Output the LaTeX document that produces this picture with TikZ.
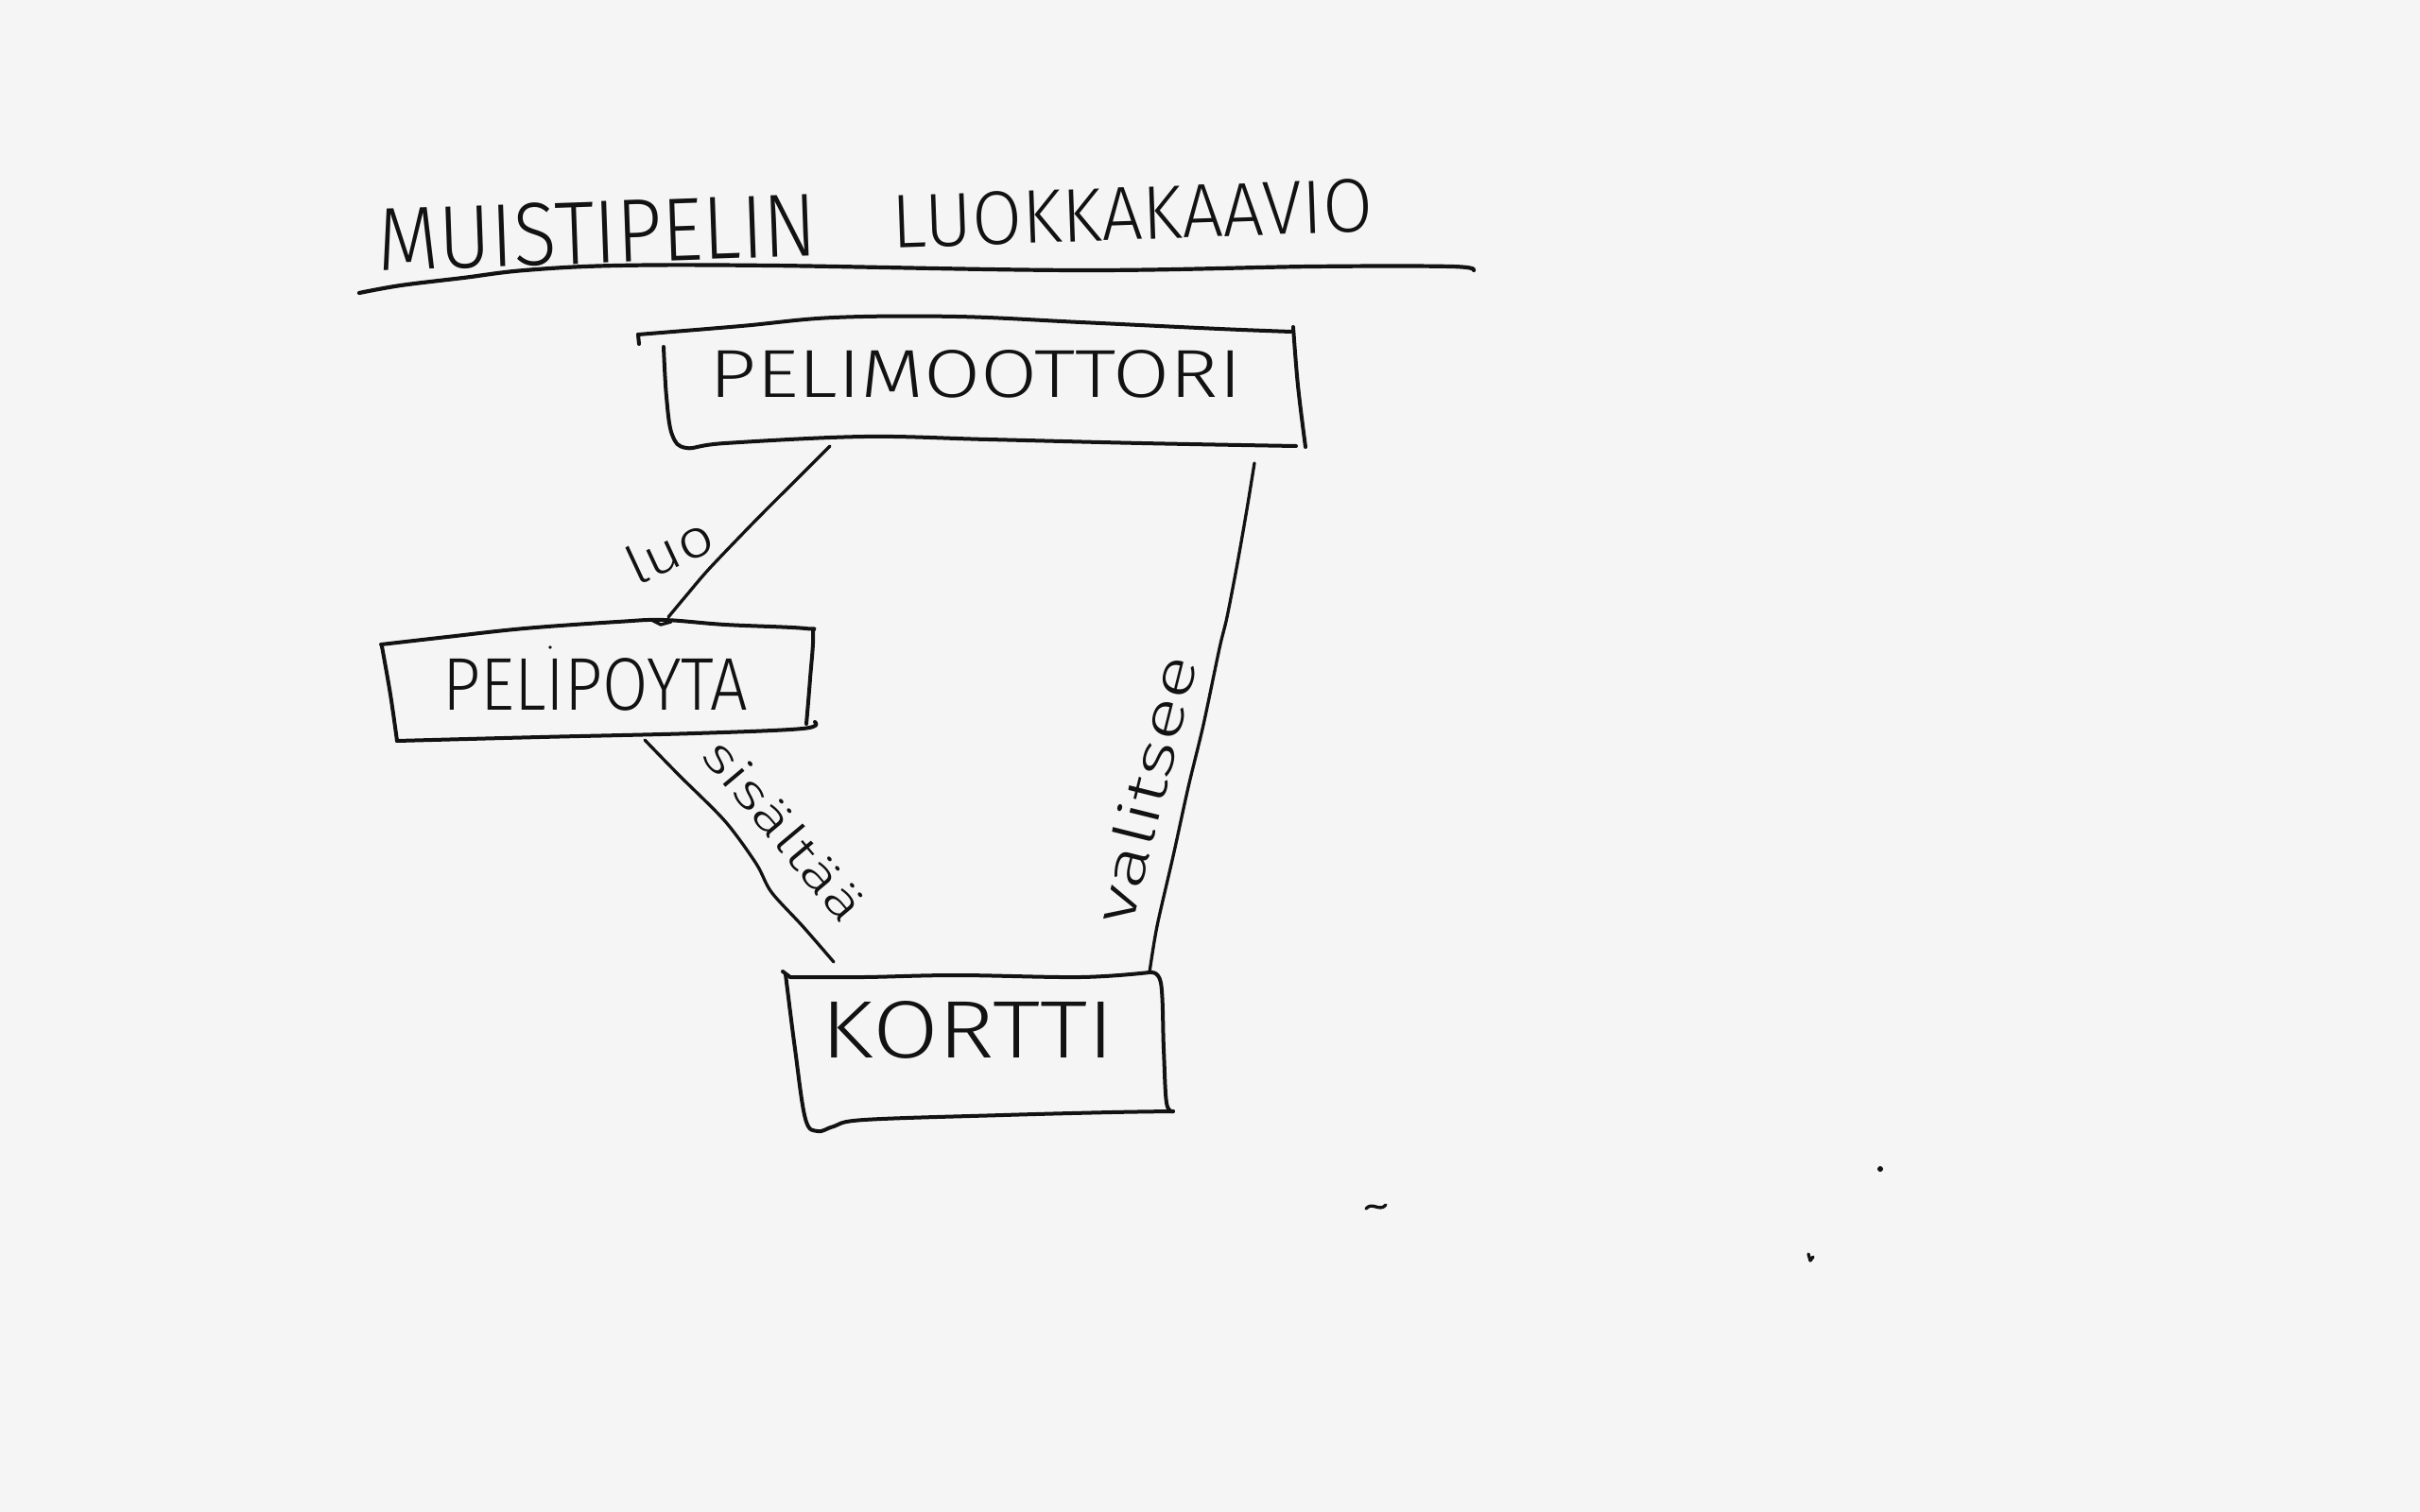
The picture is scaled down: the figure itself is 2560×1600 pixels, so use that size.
\documentclass[tikz,border=0pt]{standalone}
\usepackage{fontspec}
\usepackage{graphicx}
\newfontfamily\hand{Fira Sans Light}
\definecolor{paperc}{HTML}{F5F5F5}
\definecolor{inkc}{HTML}{121212}
% text squeezed into a given width and cap height
\newcommand\handtext[3]{\resizebox{#1}{#2}{\hand #3}}
\begin{document}
\begin{tikzpicture}[x=1pt,y=-1pt,
  pen/.style={draw=inkc,line width=4pt,line cap=round,line join=round},
  wire/.style={draw=inkc,line width=3.3pt,line cap=round,line join=round},
  lbl/.style={inner sep=0pt,outer sep=0pt,text=inkc}]
\fill[paperc] (0,0) rectangle (2560,1600);
\useasboundingbox (0,0) rectangle (2560,1600);

% title and its underline
\node[lbl,rotate=2] (title1) at (632,246) {\handtext{465pt}{66pt}{MUISTIPELIN}};
\node[lbl,rotate=2] (title2) at (1198,226) {\handtext{509pt}{56pt}{LUOKKAKAAVIO}};
\draw[pen,line width=4.2pt] plot[smooth,tension=0.6] coordinates
  {(380,310) (424,302) (490,294) (555,286) (653,281) (816,281) (1143,286) (1388,282) (1535,282) (1559,286)};

% class texts
\node[lbl] (motor) at (1032,396) {\handtext{563pt}{50pt}{PELIMOOTTORI}};
\node[lbl] (poyta) at (630,724) {\handtext{323pt}{55pt}{PELIPOYTA}};
\node[lbl] (kortti) at (1024,1090) {\handtext{310pt}{60pt}{KORTTI}};

% PELIMOOTTORI box
\draw[pen] (676,364) -- (675,354);
\draw[pen] plot[smooth,tension=0.6] coordinates
  {(675,354) (784,345) (882,336) (1012,335) (1143,341) (1290,348) (1366,351)};
\draw[pen] plot[smooth,tension=0.6] coordinates {(1368,346) (1373,408) (1381,473)};
\draw[pen] plot[smooth,tension=0.6] coordinates
  {(702,367) (705,420) (711,460) (726,474) (767,469) (914,462) (1045,465) (1208,469) (1371,472)};

% PELIPOYTA box
\draw[pen] plot[smooth,tension=0.6] coordinates
  {(420,784) (413,735) (404,684)};
\draw[pen] plot[smooth,tension=0.6] coordinates
  {(403,682) (473,674) (555,665) (653,658) (702,656) (767,661) (852,665) (860,671) (857,718) (853,766)};
\draw[pen] plot[smooth,tension=0.6] coordinates
  {(420,784) (571,780) (735,776) (849,771) (862,764)};
\fill[inkc] (582,685) circle (1.8);

% KORTTI box
\draw[pen] (828,1028) -- (836,1034);
\draw[pen] plot[smooth,tension=0.6] coordinates
  {(836,1034) (914,1034) (1012,1032) (1143,1034) (1216,1029)};
\draw[pen] plot[smooth,tension=0.6] coordinates
  {(831,1031) (841,1110) (852,1184) (865,1197) (882,1192) (914,1185) (1061,1180) (1176,1177) (1241,1176)};
\draw[pen] plot[smooth,tension=0.6] coordinates
  {(1216,1029) (1228,1040) (1231,1110) (1234,1167) (1241,1176)};

% association end points
\coordinate (luoA) at (878,472);
\coordinate (luoB) at (707,653);
\coordinate (sisA) at (682,783);
\coordinate (sisB) at (882,1018);
\coordinate (valA) at (1327,490);
\coordinate (valB) at (1216,1029);

% associations
\draw[wire] plot[smooth,tension=0.5] coordinates
  {(luoA) (849,501) (800,550) (751,601) (727,629) (luoB)};
\draw[wire] (689,656) -- (699,661) -- (710,658);
\draw[wire] plot[smooth,tension=0.5] coordinates
  {(sisA) (718,820) (767,869) (800,914) (816,944) (849,980) (sisB)};
\draw[wire] plot[smooth,tension=0.5] coordinates
  {(valA) (1319,539) (1309,596) (1298,653) (1290,686) (1273,767) (1257,833) (1241,906) (1224,980) (valB)};

% association labels
\node[lbl,rotate=25] (luo) at (708,582) {\handtext{95pt}{42pt}{luo}};
\node[lbl,rotate=-50] (sis) at (830,878) {\handtext{235pt}{38pt}{sisältää}};
\node[lbl,rotate=76] (val) at (1211,835) {\handtext{290pt}{45pt}{valitsee}};

% stray pen marks
\draw[wire] (1445,1279) .. controls (1452,1271) and (1459,1283) .. (1466,1275);
\fill[inkc] (1989,1237) circle (3);
\draw[wire] (1913,1327) -- (1915,1334) -- (1918,1330);
\end{tikzpicture}
\end{document}
